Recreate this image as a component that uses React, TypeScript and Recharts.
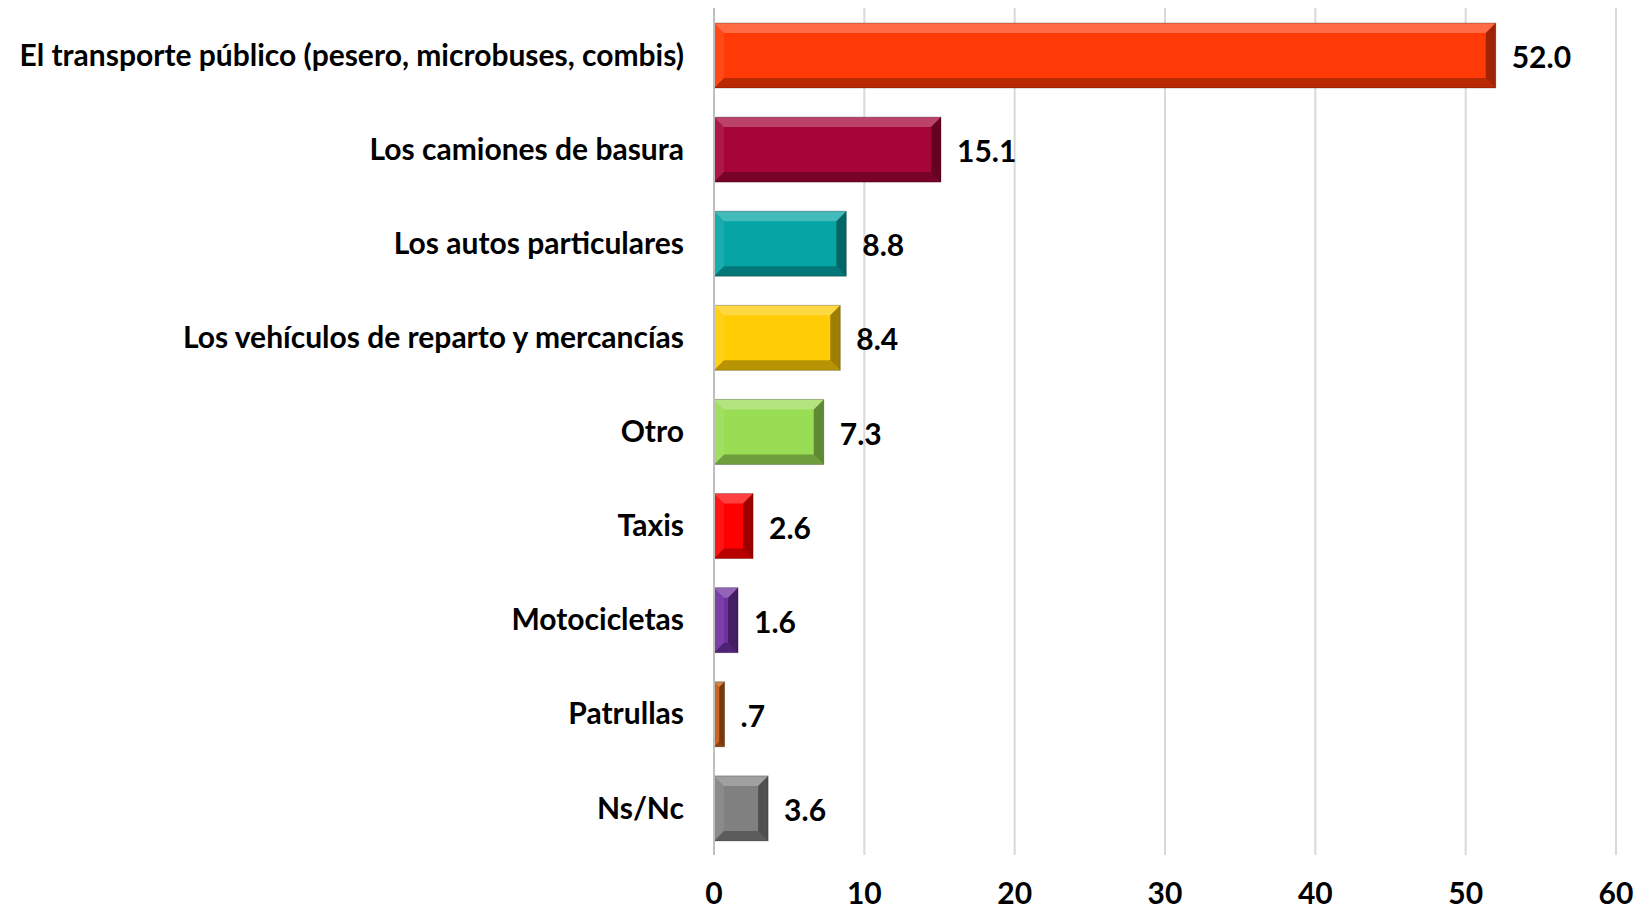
import React from "react"
import { Bar, BarChart, CartesianGrid, Cell, LabelList, XAxis, YAxis } from "recharts"

const categories = [
  "El transporte público (pesero, microbuses, combis)",
  "Los camiones de basura",
  "Los autos particulares",
  "Los vehículos de reparto y mercancías",
  "Otro",
  "Taxis",
  "Motocicletas",
  "Patrullas",
  "Ns/Nc",
]
const values = [52.0, 15.1, 8.8, 8.4, 7.3, 2.6, 1.6, 0.7, 3.6]
const xTicks = [0, 10, 20, 30, 40, 50, 60]
const barColors = ["#ff3a06", "#a50538", "#05a5a5", "#ffcc05", "#99dd55", "#ff0000", "#7030a0", "#c55a11", "#808080"]

const data = categories.map((name, i) => ({ name, value: values[i] }))

const FONT = "Lato, 'Open Sans', sans-serif"

// bar with an Excel-like bevel
const BevelBar = (props: any) => {
  const { x, y, width, height, index } = props
  if (!width || width <= 0) return null
  const fill = barColors[index] ?? props.fill
  const b = Math.min(10, width / 2, height / 2)
  const x2 = x + width
  const y2 = y + height
  const pts = (arr: number[][]) => arr.map((p) => p.join(",")).join(" ")
  return (
    <g>
      <rect x={x} y={y} width={width} height={height} fill={fill} />
      <polygon points={pts([[x, y], [x2, y], [x2 - b, y + b], [x + b, y + b]])} fill="#fff" fillOpacity={0.25} />
      <polygon points={pts([[x, y], [x + b, y + b], [x + b, y2 - b], [x, y2]])} fill="#fff" fillOpacity={0.08} />
      <polygon points={pts([[x2, y], [x2, y2], [x2 - b, y2 - b], [x2 - b, y + b]])} fill="#000" fillOpacity={0.38} />
      <polygon points={pts([[x, y2], [x2, y2], [x2 - b, y2 - b], [x + b, y2 - b]])} fill="#000" fillOpacity={0.28} />
      <rect x={x} y={y} width={width} height={height} fill="none" stroke="#000" strokeOpacity={0.25} strokeWidth={1} />
    </g>
  )
}

const fmt = (v: any) => {
  const n = Number(v)
  const s = n.toFixed(1)
  return n < 1 ? s.replace(/^0/, "") : s
}

export default function App() {
  return (
    <div style={{ position: "absolute", left: 0, top: 0, width: 1636, height: 909, background: "#fff" }}>
      <BarChart
        width={1636}
        height={909}
        data={data}
        layout="vertical"
        margin={{ top: 8, right: 20, left: 0, bottom: 10 }}
        barSize={65}
      >
        <CartesianGrid horizontal={false} stroke="#d9d9d9" strokeWidth={2} />
        <XAxis
          type="number"
          domain={[0, 60]}
          ticks={xTicks}
          axisLine={false}
          tickLine={false}
          tickSize={0}
          tickMargin={28}
          height={44}
          tick={{ fill: "#000", fontSize: 30, fontWeight: 700, fontFamily: FONT }}
        />
        <YAxis
          type="category"
          dataKey="name"
          width={714}
          axisLine={{ stroke: "#bfbfbf", strokeWidth: 2 }}
          tickLine={false}
          tickSize={0}
          tickMargin={30}
          interval={0}
          tick={{ fill: "#000", fontSize: 30, fontWeight: 700, fontFamily: FONT }}
        />
        <Bar dataKey="value" shape={BevelBar} isAnimationActive={false}>
          {data.map((_, i) => (
            <Cell key={i} fill={barColors[i]} />
          ))}
          <LabelList
            dataKey="value"
            position="right"
            offset={16}
            formatter={fmt}
            dy={2}
            style={{ fill: "#000", fontSize: 30, fontWeight: 700, fontFamily: FONT }}
          />
        </Bar>
      </BarChart>
    </div>
  )
}
